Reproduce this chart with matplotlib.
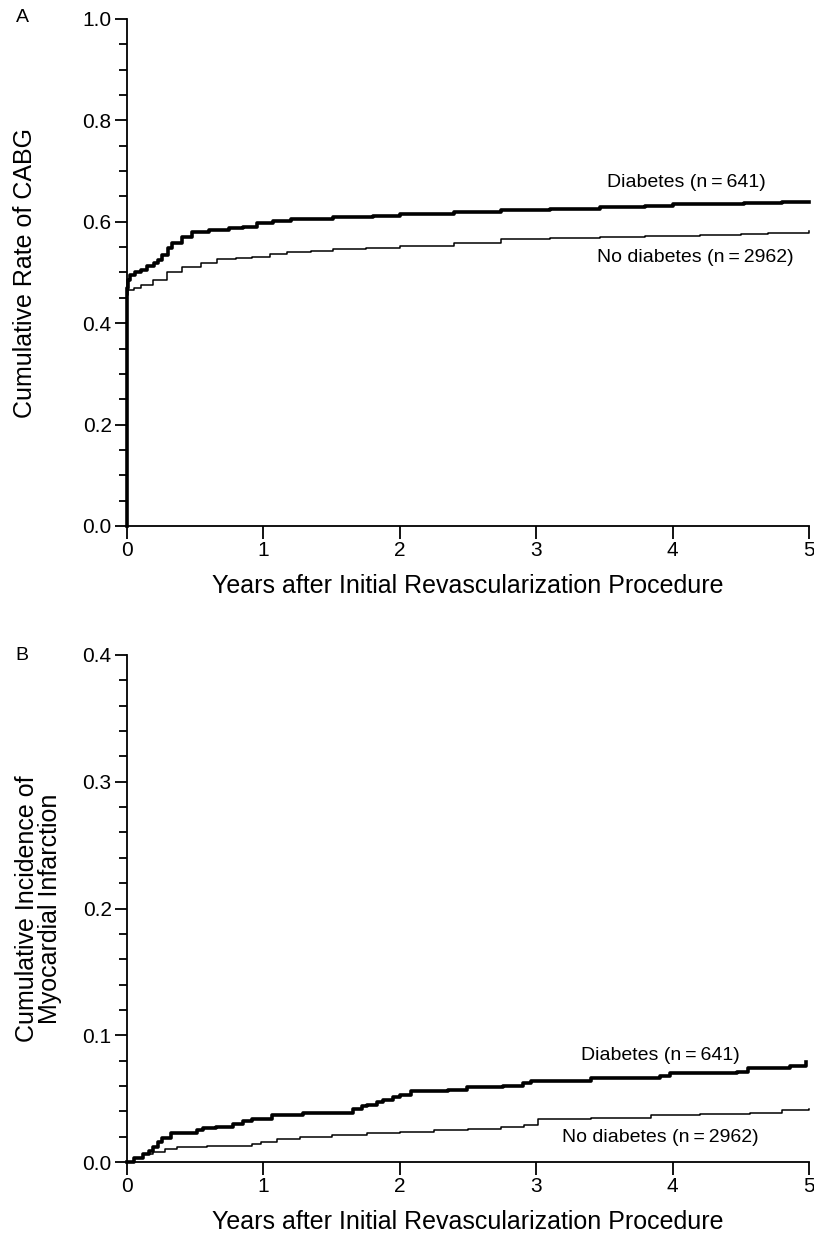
import numpy as np
import matplotlib
matplotlib.use("Agg")
from matplotlib import pyplot as plt
from matplotlib.ticker import MultipleLocator

plt.rcParams["font.family"] = ["Liberation Sans", "DejaVu Sans"]

# Panel A: cumulative rate of CABG
cabg_dm_t = [0, 0.0, 0.005, 0.02, 0.06, 0.10, 0.15, 0.20, 0.23, 0.26, 0.30, 0.33,
             0.40, 0.48, 0.60, 0.75, 0.85, 0.95, 1.07, 1.2, 1.51, 1.8, 2.0, 2.4,
             2.74, 3.1, 3.47, 3.8, 4.0, 4.3, 4.52, 4.8, 5.0]
cabg_dm_y = [0, 0.470, 0.485, 0.495, 0.500, 0.505, 0.513, 0.519, 0.524, 0.535, 0.548, 0.558,
             0.570, 0.580, 0.584, 0.587, 0.590, 0.597, 0.602, 0.605, 0.609, 0.612, 0.615, 0.619,
             0.623, 0.626, 0.629, 0.632, 0.635, 0.636, 0.638, 0.639, 0.639]
cabg_nodm_t = [0, 0.0, 0.01, 0.05, 0.10, 0.19, 0.29, 0.40, 0.54, 0.66, 0.80, 0.92,
               1.05, 1.17, 1.35, 1.51, 1.75, 2.0, 2.4, 2.74, 3.1, 3.47, 3.8, 4.2,
               4.5, 4.7, 5.0]
cabg_nodm_y = [0, 0.455, 0.465, 0.470, 0.475, 0.485, 0.501, 0.510, 0.519, 0.527, 0.529, 0.531,
               0.536, 0.540, 0.543, 0.546, 0.549, 0.552, 0.558, 0.566, 0.568, 0.570, 0.572, 0.574,
               0.576, 0.578, 0.582]

# Panel B: cumulative incidence of MI
mi_dm_t = [0, 0.05, 0.12, 0.16, 0.19, 0.23, 0.26, 0.32, 0.51, 0.56, 0.65, 0.78,
           0.85, 0.92, 1.06, 1.29, 1.66, 1.72, 1.76, 1.83, 1.88, 1.95, 2.0, 2.08,
           2.35, 2.49, 2.76, 2.9, 2.96, 3.40, 3.91, 3.98, 4.47, 4.55, 4.86, 4.98]
mi_dm_y = [0, 0.003, 0.006, 0.009, 0.012, 0.016, 0.019, 0.023, 0.025, 0.027, 0.028, 0.030,
           0.032, 0.034, 0.037, 0.039, 0.042, 0.044, 0.045, 0.047, 0.049, 0.051, 0.053, 0.056,
           0.057, 0.059, 0.060, 0.062, 0.064, 0.066, 0.068, 0.070, 0.071, 0.074, 0.076, 0.079]
mi_nodm_t = [0, 0.05, 0.12, 0.19, 0.28, 0.37, 0.59, 0.85, 0.92, 0.98, 1.1, 1.27,
             1.5, 1.76, 2.0, 2.25, 2.5, 2.74, 2.91, 3.01, 3.4, 3.84, 4.2, 4.57, 4.8, 5.0]
mi_nodm_y = [0, 0.003, 0.006, 0.008, 0.010, 0.012, 0.013, 0.013, 0.014, 0.016, 0.018, 0.020,
             0.021, 0.023, 0.024, 0.025, 0.026, 0.028, 0.029, 0.034, 0.035, 0.037, 0.038, 0.039,
             0.041, 0.042]

xlabel = "Years after Initial Revascularization Procedure"
lbl_dm = "Diabetes (n\u2009=\u2009641)"
lbl_nodm = "No diabetes (n\u2009=\u20092962)"

fig = plt.figure(figsize=(8.14, 12.34), dpi=100)
W, H = 814, 1234


def px_axes(x0, x1, ytop, ybot):
    return fig.add_axes([x0 / W, 1 - ybot / H, (x1 - x0) / W, (ybot - ytop) / H])


def style(ax, ymax, major, minor):
    for s in ("top", "right"):
        ax.spines[s].set_visible(False)
    for s in ("left", "bottom"):
        ax.spines[s].set_linewidth(1.3)
    ax.set_xlim(0, 5)
    ax.set_ylim(0, ymax)
    ax.xaxis.set_major_locator(MultipleLocator(1))
    ax.yaxis.set_major_locator(MultipleLocator(major))
    ax.yaxis.set_minor_locator(MultipleLocator(minor))
    ax.yaxis.set_major_formatter(plt.FuncFormatter(lambda v, p: f"{v:.1f}"))
    ax.tick_params(which="major", length=9, width=1.3, labelsize=15, direction="out", pad=2)
    ax.tick_params(which="minor", length=6, width=1.3, direction="out")
    ax.set_xlabel(xlabel, fontsize=18, labelpad=10)


# --- panel A ---
ax1 = px_axes(127, 809, 19, 526)
style(ax1, 1.0, 0.2, 0.05)
ax1.plot(cabg_nodm_t, cabg_nodm_y, drawstyle="steps-post", color="black", lw=1.1, clip_on=False)
ax1.plot(cabg_dm_t, cabg_dm_y, drawstyle="steps-post", color="black", lw=2.6, clip_on=False)
ax1.text(4.1, 0.678, lbl_dm, fontsize=14, ha="center", va="center")
ax1.text(4.17, 0.529, lbl_nodm, fontsize=14, ha="center", va="center")
ax1.set_ylabel("Cumulative Rate of CABG", fontsize=18)
ax1.yaxis.set_label_coords(-0.132, 0.5)
fig.text(22 / W, 1 - 18 / H, "A", fontsize=14, ha="center", va="center")

# --- panel B ---
ax2 = px_axes(127, 809, 655, 1162)
style(ax2, 0.4, 0.1, 0.02)
ax2.plot(mi_nodm_t, mi_nodm_y, drawstyle="steps-post", color="black", lw=1.1, clip_on=False)
ax2.plot(mi_dm_t, mi_dm_y, drawstyle="steps-post", color="black", lw=2.6, clip_on=False)
ax2.text(3.91, 0.084, lbl_dm, fontsize=14, ha="center", va="center")
ax2.text(3.91, 0.0196, lbl_nodm, fontsize=14, ha="center", va="center")
ax2.set_ylabel("Cumulative Incidence of\nMyocardial Infarction", fontsize=18, linespacing=0.95)
ax2.yaxis.set_label_coords(-0.095, 0.5)
fig.text(22 / W, 1 - 655 / H, "B", fontsize=14, ha="center", va="center")

fig.savefig("out.png", dpi=100)
